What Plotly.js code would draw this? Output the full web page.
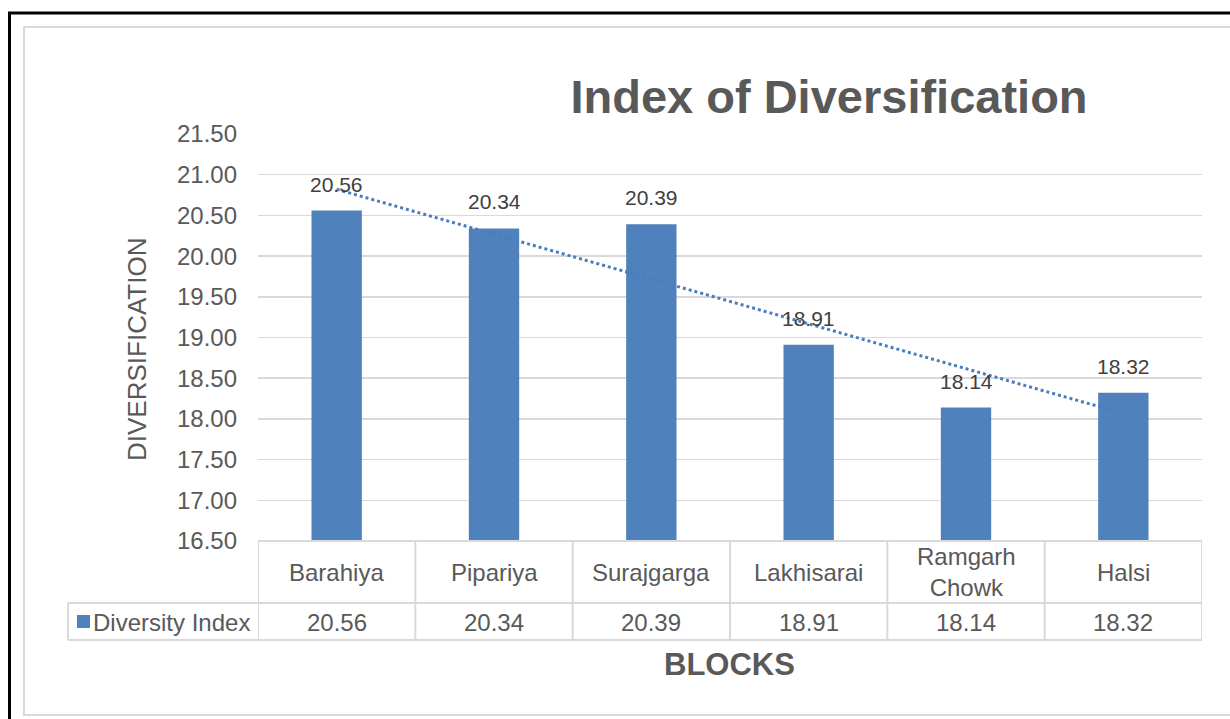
<!DOCTYPE html>
<html>
<head>
<meta charset="utf-8">
<script src="https://cdn.plot.ly/plotly-3.0.1.min.js"></script>
<style>
html,body{margin:0;padding:0;background:#fff;}
#chart{width:1230px;height:719px;}
</style>
</head>
<body>
<div id="chart"></div>
<script>
// ---- data ----
const categories = ['Barahiya', 'Pipariya', 'Surajgarga', 'Lakhisarai', 'Ramgarh Chowk', 'Halsi'];
const tableLabels = ['Barahiya', 'Pipariya', 'Surajgarga', 'Lakhisarai', 'Ramgarh<br>Chowk', 'Halsi'];
const diversityIndex = [20.56, 20.34, 20.39, 18.91, 18.14, 18.32];
const seriesName = 'Diversity Index';
const yTicks = [16.5, 17, 17.5, 18, 18.5, 19, 19.5, 20, 20.5, 21, 21.5];

// ---- layout geometry (pixels) ----
const W = 1230, H = 719;
const L = 258, R = 1202, T = 134, B = 541;
const px = x => (x - L) / (R - L);
const py = y => (B - y) / (B - T);

// linear trendline (least squares over category index, as Excel does)
const n = diversityIndex.length;
const xs = diversityIndex.map((_, i) => i);
const mx = xs.reduce((a, b) => a + b, 0) / n;
const my = diversityIndex.reduce((a, b) => a + b, 0) / n;
let sxy = 0, sxx = 0;
xs.forEach((x, i) => { sxy += (x - mx) * (diversityIndex[i] - my); sxx += (x - mx) * (x - mx); });
const slope = sxy / sxx, icpt = my - slope * mx;
const trendY = [icpt + slope * 0, icpt + slope * (n - 1)];
const trendX = [categories[0], categories[n - 1]];

const barColor = '#4F81BD';
const grid = '#d9d9d9';
const textGrey = '#595959';
const FONT = 'Liberation Sans, Arial, sans-serif';

const traces = [
  {
    type: 'bar', x: categories, y: diversityIndex, name: seriesName,
    marker: { color: barColor }, hoverinfo: 'x+y'
  },
  {
    type: 'scatter', mode: 'lines', x: trendX, y: trendY, name: 'Linear (Diversity Index)',
    line: { color: '#4a7ebb', width: 3, dash: 'dot' }, hoverinfo: 'skip'
  }
];

const shapes = [];
const line = (x0, y0, x1, y1, color, w) => shapes.push({
  type: 'line', xref: 'paper', yref: 'paper', x0: px(x0), y0: py(y0), x1: px(x1), y1: py(y1),
  line: { color: color, width: w }, layer: 'above'
});
// outer black frame
shapes.push({ type: 'rect', xref: 'paper', yref: 'paper', x0: px(9.5), y0: py(13), x1: px(1260), y1: py(760),
  line: { color: '#000', width: 3 }, fillcolor: 'rgba(0,0,0,0)', layer: 'below' });
// inner grey chart-area frame
shapes.push({ type: 'rect', xref: 'paper', yref: 'paper', x0: px(24), y0: py(27), x1: px(1260), y1: py(715),
  line: { color: grid, width: 2 }, fillcolor: 'rgba(0,0,0,0)', layer: 'below' });
// data table lines
const rowTop = 541, rowMid = 603, rowBot = 640, leftCol = 68;
line(L, rowTop, R, rowTop, grid, 2);
line(leftCol, rowMid, R, rowMid, grid, 2);
line(leftCol, rowBot, R, rowBot, grid, 2);
line(leftCol, rowMid, leftCol, rowBot, grid, 2);
for (let i = 0; i <= n; i++) {
  shapes.push({ type: 'line', xref: 'x', yref: 'paper', x0: i - 0.5, x1: i - 0.5, y0: py(rowTop), y1: py(rowBot),
    line: { color: grid, width: 2 }, layer: 'above' });
}
// legend key square
shapes.push({ type: 'rect', xref: 'paper', yref: 'paper', x0: px(77), x1: px(90), y0: py(628), y1: py(615),
  fillcolor: barColor, line: { width: 0 }, layer: 'above' });

const annotations = [];
// data labels
diversityIndex.forEach((v, i) => annotations.push({
  x: categories[i], y: v, xref: 'x', yref: 'y', text: v.toFixed(2), showarrow: false,
  yanchor: 'bottom', yshift: 13, font: { family: FONT, size: 21, color: '#404040' }
}));
// table category labels and values
tableLabels.forEach((c, i) => {
  annotations.push({ x: i, y: py((rowTop + rowMid) / 2), xref: 'x', yref: 'paper', text: c, showarrow: false,
    yanchor: 'middle', font: { family: FONT, size: 24, color: textGrey } });
  annotations.push({ x: i, y: py((rowMid + rowBot) / 2 + 1), xref: 'x', yref: 'paper', text: diversityIndex[i].toFixed(2), showarrow: false,
    yanchor: 'middle', font: { family: FONT, size: 24, color: textGrey } });
});
annotations.push({ x: px(91), y: py((rowMid + rowBot) / 2 + 1), xref: 'paper', yref: 'paper', text: seriesName, showarrow: false,
  xanchor: 'left', yanchor: 'middle', font: { family: FONT, size: 24, color: textGrey } });
// axis titles
annotations.push({ x: px(137), y: py(350), xref: 'paper', yref: 'paper', text: 'DIVERSIFICATION', textangle: -90, showarrow: false,
  xanchor: 'center', yanchor: 'middle', font: { family: FONT, size: 26, color: textGrey } });
annotations.push({ x: px(729), y: py(664), xref: 'paper', yref: 'paper', text: '<b>BLOCKS</b>', showarrow: false,
  xanchor: 'center', yanchor: 'middle', font: { family: FONT, size: 31, color: textGrey } });

const layout = {
  width: W, height: H,
  margin: { l: L, r: W - R, t: T, b: H - B, pad: 0 },
  paper_bgcolor: '#fff', plot_bgcolor: '#fff',
  showlegend: false,
  bargap: 0.68,
  title: { text: '<b>Index of Diversification</b>', xref: 'container', yref: 'container', x: 829 / W, y: 1 - 97 / H,
    xanchor: 'center', yanchor: 'middle', font: { family: FONT, size: 47, color: textGrey } },
  xaxis: { type: 'category', range: [-0.5, n - 0.5], showticklabels: false, showgrid: false, zeroline: false,
    showline: false, ticks: '', fixedrange: true },
  yaxis: { range: [16.5, 21.5], tickvals: yTicks, ticktext: yTicks.map(v => v.toFixed(2)),
    showgrid: true, gridcolor: grid, gridwidth: 1.5, zeroline: false, showline: false, ticks: '',
    ticklabelstandoff: 20, tickfont: { family: FONT, size: 24, color: textGrey }, fixedrange: true },
  shapes: shapes,
  annotations: annotations,
  font: { family: FONT, color: textGrey }
};

Plotly.newPlot('chart', traces, layout, { displayModeBar: false, staticPlot: true });
</script>
</body>
</html>
